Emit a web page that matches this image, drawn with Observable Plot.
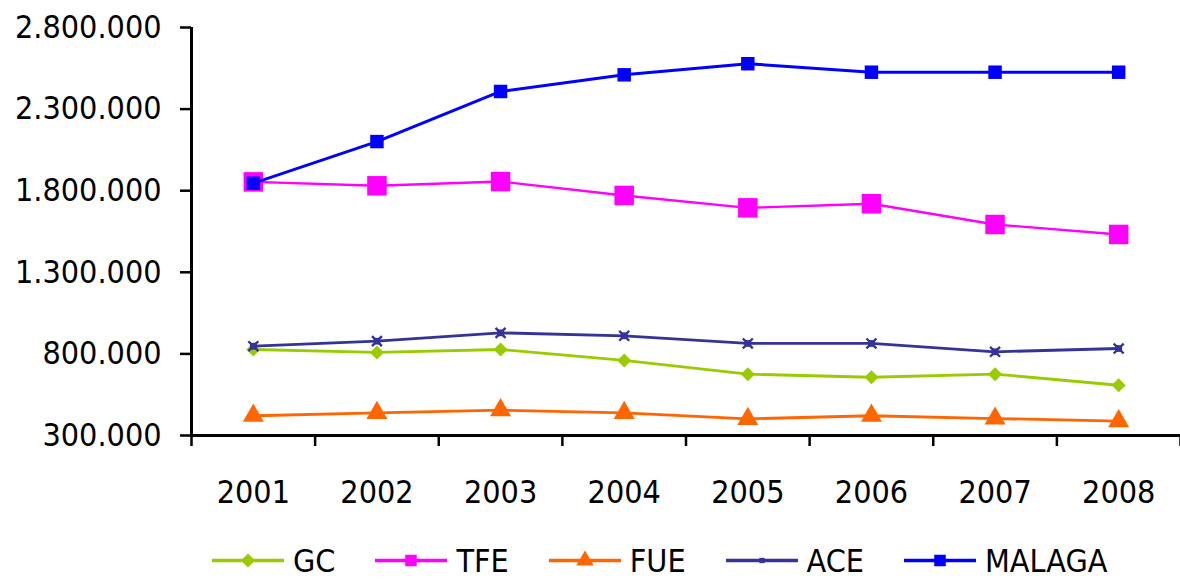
<!DOCTYPE html>
<html>
<head>
<meta charset="utf-8">
<script src="https://cdn.jsdelivr.net/npm/d3@7"></script>
<script src="https://cdn.jsdelivr.net/npm/@observablehq/plot@0.6"></script>
<style>
  body { margin: 0; background: #fff; }
  #chart {
    width: 1180px; height: 579px; overflow: hidden;
    font-family: "DejaVu Sans Condensed", "DejaVu Sans", sans-serif;
    font-stretch: condensed; color: #000;
  }
  .legend {
    display: flex; align-items: center; gap: 40px;
    padding-left: 212px; padding-top: 26px;
    font-size: 32px; line-height: 28px;
  }
  .legend .item { display: flex; align-items: center; }
  .legend svg { display: block; margin-right: 9px; }
</style>
</head>
<body>
<div id="chart"></div>
<script>
// Passengers per year, 2001–2008
const years = [2001, 2002, 2003, 2004, 2005, 2006, 2007, 2008];
const gc     = [827000, 809000, 827000, 760000, 676000, 657000, 676000, 608000];
const tfe    = [1854000, 1830000, 1856000, 1771000, 1695000, 1720000, 1593000, 1532000];
const fue    = [421000, 439000, 455000, 439000, 402000, 421000, 404000, 388000];
const ace    = [847000, 878000, 929000, 911000, 864000, 864000, 813000, 833000];
const malaga = [1846000, 2101000, 2408000, 2510000, 2578000, 2526000, 2526000, 2526000];

const seriesNames = ["GC", "TFE", "FUE", "ACE", "MALAGA"];
const yTicks = [300000, 800000, 1300000, 1800000, 2300000, 2800000];

const series = [
  {name: seriesNames[0], values: gc,     color: "#99cc00", symbol: "diamond2", r: 6.3, width: 2.8},
  {name: seriesNames[1], values: tfe,    color: "#ff00ff", symbol: "square",   r: 11,  width: 2.4},
  {name: seriesNames[2], values: fue,    color: "#ff6600", symbol: "triangle", r: 7.8, width: 2.8},
  {name: seriesNames[3], values: ace,    color: "#333399", symbol: "square",   r: 3.8, width: 2.8},
  {name: seriesNames[4], values: malaga, color: "#0000ff", symbol: "square",   r: 7.6, width: 3}
];
series.forEach(s => s.data = years.map((year, i) => ({year, value: s.values[i]})));

// Spanish thousands separator: 2.800.000
const fmt = d => d3.format(",")(d).replace(/,/g, ".");

const marks = [
  Plot.axisY({ticks: yTicks, tickSize: 11, tickPadding: 19, tickFormat: fmt, strokeWidth: 2.5, label: null}),
  // category boundary ticks, then the year labels centred between them
  Plot.axisX({ticks: d3.range(2000.5, 2009, 1), tickSize: 11, tickFormat: () => "", strokeWidth: 2.5, label: null}),
  Plot.axisX({ticks: years, tickSize: 0, tickPadding: 45, tickFormat: d => String(d), label: null}),
  Plot.ruleX([2000.5], {y1: 300000, y2: 2800000, stroke: "#000", strokeWidth: 3}),
  Plot.ruleY([300000], {stroke: "#000", strokeWidth: 3})
];
for (const s of series) {
  marks.push(Plot.line(s.data, {x: "year", y: "value", stroke: s.color, strokeWidth: s.width}));
  marks.push(Plot.dot(s.data, {x: "year", y: "value", symbol: s.symbol, r: s.r, fill: s.color, stroke: "none"}));
  if (s.name === "ACE") {
    marks.push(Plot.dot(s.data, {x: "year", y: "value", symbol: "times", r: 4.6, stroke: s.color, strokeWidth: 2.4}));
  }
}

const chart = Plot.plot({
  width: 1180,
  height: 520,
  marginTop: 27,
  marginLeft: 191,
  marginRight: 0,
  marginBottom: 85,
  x: {type: "linear", domain: [2000.5, 2008.5], label: null},
  y: {type: "linear", domain: [300000, 2800000], label: null},
  style: {fontSize: "32px", fontFamily: "inherit", color: "#000", background: "#fff", overflow: "visible"},
  marks
});

const root = document.getElementById("chart");
root.appendChild(chart);

// Legend: line swatch with the series marker, then the name
const symbolMap = {diamond2: d3.symbolDiamond2, square: d3.symbolSquare, triangle: d3.symbolTriangle};
const legend = d3.select(root).append("div").attr("class", "legend");
for (const s of series) {
  const item = legend.append("div").attr("class", "item");
  const sw = item.append("svg").attr("width", 72).attr("height", 29);
  sw.append("line").attr("x1", 0).attr("x2", 72).attr("y1", 14.5).attr("y2", 14.5)
    .attr("stroke", s.color).attr("stroke-width", 3.5);
  const legendR = s.name === "ACE" ? 3 : Math.min(s.r, 6.5);
  sw.append("path")
    .attr("transform", "translate(36,14.5)")
    .attr("d", d3.symbol(symbolMap[s.symbol], Math.PI * legendR * legendR)())
    .attr("fill", s.color);
  item.append("span").text(s.name);
}
</script>
</body>
</html>
